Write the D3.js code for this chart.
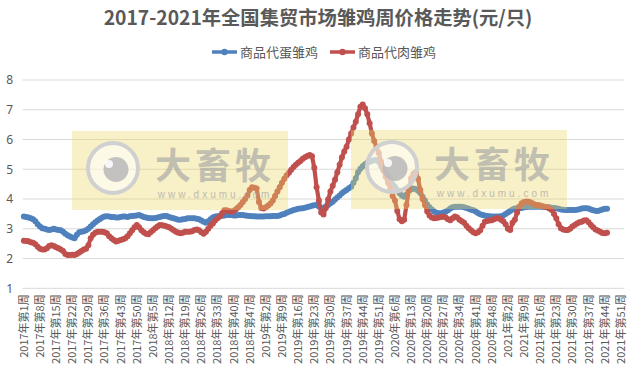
<!DOCTYPE html>
<html><head><meta charset="utf-8">
<script src="https://cdn.jsdelivr.net/npm/d3@7"></script>
<style>
html,body{margin:0;padding:0;background:#fff;}
svg{display:block;font-family:"Noto Sans CJK SC","Noto Sans",sans-serif;}
</style></head>
<body><svg id="chart" width="634" height="374"></svg>
<script>
const title = "2017-2021年全国集贸市场雏鸡周价格走势(元/只)";
const seriesNames = ["商品代蛋雏鸡", "商品代肉雏鸡"];
const seriesColors = ["#4f81bd", "#c0504d"];
const years = [2017, 2018, 2019, 2020, 2021];
const weeksPerYear = [52, 52, 52, 53, 52];
const yTicks = [1, 2, 3, 4, 5, 6, 7, 8];
const tickLabels = [
 "2017年第1周","2017年第8周","2017年第15周","2017年第22周","2017年第29周","2017年第36周","2017年第43周","2017年第50周",
 "2018年第5周","2018年第12周","2018年第19周","2018年第26周","2018年第33周","2018年第40周","2018年第47周",
 "2019年第2周","2019年第9周","2019年第16周","2019年第23周","2019年第30周","2019年第37周","2019年第44周","2019年第51周",
 "2020年第6周","2020年第13周","2020年第20周","2020年第27周","2020年第34周","2020年第41周","2020年第48周",
 "2021年第2周","2021年第9周","2021年第16周","2021年第23周","2021年第30周","2021年第37周","2021年第44周","2021年第51周"
];
// 商品代蛋雏鸡 (blue)
const eggChick = [
 3.41,3.40,3.38,3.35,3.32,3.25,3.15,3.08,3.02,3.00,
 2.98,2.96,2.98,3.00,2.98,2.96,2.95,2.90,2.83,2.78,
 2.74,2.71,2.68,2.80,2.88,2.90,2.92,2.95,3.00,3.08,
 3.15,3.22,3.28,3.33,3.38,3.41,3.42,3.41,3.40,3.40,
 3.38,3.38,3.40,3.41,3.41,3.40,3.42,3.43,3.44,3.45,
 3.46,3.43,3.40,3.38,3.36,3.35,3.35,3.36,3.38,3.40,
 3.42,3.43,3.43,3.40,3.37,3.35,3.33,3.30,3.30,3.32,
 3.33,3.35,3.35,3.35,3.35,3.34,3.32,3.28,3.24,3.20,
 3.25,3.32,3.38,3.41,3.42,3.43,3.44,3.45,3.46,3.46,
 3.46,3.45,3.45,3.46,3.46,3.46,3.45,3.44,3.43,3.42,
 3.42,3.41,3.41,3.41,3.41,3.42,3.42,3.42,3.43,3.43,
 3.43,3.45,3.48,3.50,3.54,3.57,3.60,3.63,3.65,3.67,
 3.68,3.69,3.71,3.73,3.75,3.77,3.79,3.80,3.75,3.69,
 3.70,3.75,3.80,3.86,3.91,3.98,4.05,4.12,4.19,4.25,
 4.30,4.36,4.41,4.55,4.70,4.90,5.02,5.10,5.17,5.22,
 5.25,5.28,5.30,5.31,5.25,5.10,4.97,4.88,4.78,4.65,
 4.50,4.41,4.30,4.19,4.12,4.08,4.15,4.28,4.32,4.35,
 4.34,4.28,4.20,4.08,3.95,3.82,3.72,3.65,3.58,3.54,
 3.52,3.52,3.55,3.57,3.62,3.68,3.72,3.74,3.74,3.74,
 3.74,3.72,3.70,3.67,3.64,3.62,3.58,3.53,3.49,3.46,
 3.45,3.43,3.42,3.41,3.41,3.41,3.41,3.42,3.45,3.50,
 3.55,3.60,3.65,3.68,3.69,3.69,3.70,3.72,3.73,3.74,
 3.74,3.74,3.74,3.74,3.74,3.74,3.73,3.72,3.72,3.71,
 3.70,3.69,3.67,3.65,3.64,3.63,3.63,3.63,3.63,3.63,
 3.64,3.66,3.68,3.69,3.69,3.68,3.65,3.62,3.61,3.60,
 3.62,3.65,3.67,3.67
];
// 商品代肉雏鸡 (red)
const broilerChick = [
 2.60,2.59,2.58,2.55,2.53,2.48,2.40,2.33,2.30,2.30,
 2.35,2.42,2.45,2.42,2.38,2.35,2.30,2.25,2.15,2.12,
 2.12,2.13,2.12,2.15,2.20,2.25,2.30,2.33,2.45,2.68,
 2.80,2.87,2.90,2.90,2.90,2.88,2.85,2.75,2.68,2.62,
 2.57,2.60,2.62,2.65,2.68,2.75,2.85,2.95,3.05,3.13,
 3.05,2.95,2.88,2.83,2.82,2.88,2.95,3.02,3.08,3.13,
 3.12,3.10,3.08,3.05,3.00,2.95,2.90,2.87,2.85,2.87,
 2.90,2.90,2.90,2.92,2.96,2.98,2.95,2.88,2.83,2.90,
 3.00,3.10,3.18,3.28,3.35,3.41,3.52,3.62,3.62,3.60,
 3.57,3.60,3.66,3.72,3.80,3.90,4.00,4.12,4.30,4.40,
 4.38,4.35,3.90,3.70,3.68,3.72,3.78,3.85,3.95,4.10,
 4.25,4.40,4.55,4.68,4.80,4.88,4.98,5.08,5.15,5.22,
 5.28,5.35,5.40,5.45,5.48,5.44,5.05,4.40,3.95,3.55,
 3.48,3.70,3.98,4.25,4.45,4.65,4.90,5.15,5.40,5.60,
 5.76,6.00,6.20,6.40,6.60,6.85,7.10,7.18,7.05,6.85,
 6.55,6.20,5.95,5.75,5.55,5.25,4.97,4.75,4.55,4.35,
 4.10,3.95,3.60,3.32,3.25,3.30,3.80,4.30,4.70,4.85,
 4.90,4.68,4.30,4.00,3.80,3.58,3.45,3.38,3.35,3.36,
 3.38,3.40,3.41,3.38,3.32,3.29,3.35,3.41,3.38,3.30,
 3.25,3.20,3.10,3.02,2.95,2.88,2.85,2.88,2.95,3.10,
 3.24,3.26,3.28,3.29,3.32,3.35,3.35,3.30,3.25,3.15,
 3.00,2.96,3.20,3.30,3.55,3.75,3.86,3.90,3.92,3.91,
 3.88,3.84,3.80,3.80,3.78,3.76,3.74,3.72,3.68,3.63,
 3.50,3.35,3.15,3.02,2.98,2.96,2.96,3.00,3.08,3.13,
 3.18,3.22,3.24,3.28,3.29,3.22,3.13,3.05,2.98,2.94,
 2.90,2.86,2.85,2.87
];

// category list (week labels)
const categories = [];
years.forEach((yr, k) => { for (let w = 1; w <= weeksPerYear[k]; w++) categories.push(yr + "年第" + w + "周"); });

const svg = d3.select("#chart");
const textColor = "#595959";
const plot = {left: 22.7, right: 624.3, top: 80, bottom: 288.3};

const x = d3.scaleBand().domain(categories).range([plot.left, plot.right]).padding(0);
const y = d3.scaleLinear().domain([1, 8]).range([plot.bottom, plot.top]);
const cx = c => x(c) + x.bandwidth() / 2;

// gridlines
svg.append("g").selectAll("line").data(yTicks).join("line")
  .attr("x1", plot.left).attr("x2", plot.right)
  .attr("y1", d => y(d)).attr("y2", d => y(d))
  .attr("stroke", "#d9d9d9").attr("stroke-width", 1);

// y axis labels
const yAxis = d3.axisLeft(y).tickValues(yTicks).tickSize(0).tickPadding(0).tickFormat(d3.format("d"));
svg.append("g").attr("transform", `translate(13,0)`).call(yAxis)
  .call(g => g.select(".domain").remove())
  .call(g => g.selectAll("text").attr("fill", textColor).attr("font-size", 12)
        .attr("font-family", "'Noto Sans','Noto Sans CJK SC',sans-serif"));

// x axis labels
const xAxis = d3.axisBottom(x).tickValues(tickLabels).tickSize(0).tickPadding(0);
svg.append("g").attr("transform", `translate(0,${plot.bottom})`).call(xAxis)
  .call(g => g.select(".domain").remove())
  .call(g => g.selectAll("text")
     .attr("fill", textColor).attr("font-size", 11)
     .attr("font-family", "'Noto Sans CJK SC',sans-serif")
     .attr("text-anchor", "end").attr("dy", "0.36em").attr("y", 0)
     .attr("transform", "translate(0,6) rotate(-90)"));

// series
const series = [
  {name: seriesNames[0], color: seriesColors[0], values: eggChick},
  {name: seriesNames[1], color: seriesColors[1], values: broilerChick}
];
const line = d3.line().x(d => cx(d.c)).y(d => y(d.v));
series.forEach(s => {
  const pts = s.values.map((v, i) => ({c: categories[i], v}));
  const g = svg.append("g");
  g.append("path").datum(pts).attr("d", line)
    .attr("fill", "none").attr("stroke", s.color).attr("stroke-width", 4.2)
    .attr("stroke-linejoin", "round").attr("stroke-linecap", "round");
  g.selectAll("circle").data(pts).join("circle")
    .attr("cx", d => cx(d.c)).attr("cy", d => y(d.v)).attr("r", 3)
    .attr("fill", s.color);
});

// watermarks
const marks = [{x0: 72, x1: 288, y0: 131, y1: 210}, {x0: 351, x1: 567, y0: 130, y1: 209}];
marks.forEach(m => {
  const g = svg.append("g");
  g.append("rect").attr("x", m.x0).attr("y", m.y0).attr("width", m.x1 - m.x0).attr("height", m.y1 - m.y0)
    .attr("fill", "#ecd865").attr("opacity", 0.36);
  const lc = {x: m.x0 + 41, y: m.y0 + 37};
  g.append("circle").attr("cx", lc.x).attr("cy", lc.y).attr("r", 25)
    .attr("fill", "#ffffff").attr("fill-opacity", 0.55).attr("stroke", "#d0d0d0").attr("stroke-width", 4);
  g.append("circle").attr("cx", lc.x + 3).attr("cy", lc.y + 1.5).attr("r", 12.5).attr("fill", "#b8b8b8").attr("opacity", 0.85);
  g.append("circle").attr("cx", lc.x - 4).attr("cy", lc.y - 4).attr("r", 4).attr("fill", "#ffffff").attr("opacity", 0.85);
  g.append("text").attr("x", m.x0 + 143).attr("y", m.y0 + 48).attr("text-anchor", "middle")
    .attr("font-size", 36).attr("font-weight", "bold").attr("fill", "#a5a5a5").attr("opacity", 0.65)
    .attr("letter-spacing", 4).text("大畜牧");
  g.append("text").attr("x", m.x0 + 143).attr("y", m.y0 + 67).attr("text-anchor", "middle")
    .attr("font-size", 10).attr("fill", "#a5a5a5").attr("opacity", 0.7)
    .attr("letter-spacing", 3).attr("font-family", "'Liberation Sans',sans-serif").text("www.dxumu.com");
});

// title
svg.append("text").attr("x", 318).attr("y", 25).attr("text-anchor", "middle")
  .attr("font-size", 19.3).attr("font-weight", "bold").attr("fill", textColor).text(title);

// legend
const legendItems = [{x: 212}, {x: 330}];
series.forEach((s, i) => {
  const lx = legendItems[i].x, ly = 52;
  svg.append("line").attr("x1", lx).attr("x2", lx + 25).attr("y1", ly).attr("y2", ly)
    .attr("stroke", s.color).attr("stroke-width", 3.5);
  svg.append("circle").attr("cx", lx + 12.5).attr("cy", ly).attr("r", 3.2).attr("fill", s.color);
  svg.append("text").attr("x", lx + 28).attr("y", ly).attr("dy", "0.35em")
    .attr("font-size", 13).attr("fill", textColor).text(s.name);
});
</script></body></html>
